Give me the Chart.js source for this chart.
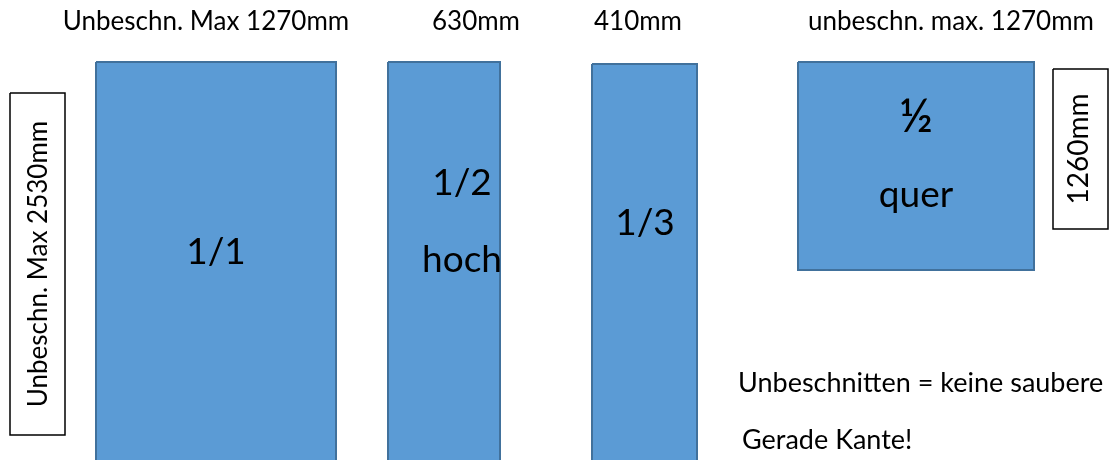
<!DOCTYPE html>
<html>
<head>
<meta charset="utf-8">
<script src="https://cdn.jsdelivr.net/npm/chart.js@4.4.1/dist/chart.umd.min.js"></script>
<style>
    body { margin: 0; background: #fff; }
    #wrap { width: 1109px; height: 460px; }
</style>
</head>
<body>
<div id="wrap"><canvas id="formats"></canvas></div>
<script>
// poster formats, layout units (x: 0..1109 left to right, y: 0..460 top to bottom)
const formatNames = ['1/1', '1/2 hoch', '1/3', '½ quer'];
const formatLeft = [96, 388, 592, 798];
const formatRight = [336, 500, 697, 1034];
const formatTop = [62, 62, 64, 62];
const formatBottom = [480, 480, 480, 270];
// text inside the shapes, one entry per line
const innerText = [['1/1'], ['1/2', 'hoch'], ['1/3'], ['½', 'quer']];
const innerX = [[216], [462, 462], [645], [916, 916]];
const innerY = [[252], [183, 260], [223], [117, 195]];

// widths above the shapes
const widthLabels = ['Unbeschn. Max 1270mm', '630mm', '410mm', 'unbeschn. max. 1270mm'];
const widthLabelX = [206, 476, 638, 951];
const widthLabelY = 22;

// height boxes at the sides
const heightLabels = ['Unbeschn. Max 2530mm', '1260mm'];
const heightLeft = [10, 1053];
const heightRight = [65, 1108];
const heightTop = [93, 69];
const heightBottom = [435, 229];
const heightTextX = [39, 1079];

const notes = ['Unbeschnitten = keine saubere', 'Gerade Kante!'];
const noteX = [738, 742];
const noteY = [383, 440];

function outline(l, r, t, b) {
    return [{x: l, y: t}, {x: r, y: t}, {x: r, y: b}, {x: l, y: b}, {x: l, y: t}];
}

var datasets = [];
formatNames.forEach(function (name, i) {
    datasets.push({
        label: name,
        data: outline(formatLeft[i], formatRight[i], formatTop[i], formatBottom[i]),
        showLine: true,
        fill: 'shape',
        backgroundColor: '#5b9bd5',
        borderColor: '#41719c',
        borderWidth: 2,
        pointRadius: 0,
        tension: 0
    });
});
heightLabels.forEach(function (name, i) {
    datasets.push({
        label: name,
        data: outline(heightLeft[i], heightRight[i], heightTop[i], heightBottom[i]),
        showLine: true,
        fill: false,
        borderColor: '#000000',
        borderWidth: 1.5,
        pointRadius: 0,
        tension: 0
    });
});

const FONT = 'Lato, "Open Sans", sans-serif';

const textPlugin = {
    id: 'texts',
    afterDatasetsDraw(chart) {
        const ctx = chart.ctx;
        const xs = chart.scales.x;
        const ys = chart.scales.y;
        ctx.save();
        ctx.fillStyle = '#000';
        ctx.textBaseline = 'middle';

        // labels inside shapes
        ctx.textAlign = 'center';
        innerText.forEach(function (lines, i) {
            lines.forEach(function (t, j) {
                // the half sign comes out small, so give it a bigger size
                ctx.font = t === '½' ? '500 46px ' + FONT : '37px ' + FONT;
                ctx.fillText(t, xs.getPixelForValue(innerX[i][j]), ys.getPixelForValue(innerY[i][j]));
            });
        });

        // widths on top
        ctx.font = '26px ' + FONT;
        widthLabels.forEach(function (t, i) {
            ctx.fillText(t, xs.getPixelForValue(widthLabelX[i]), ys.getPixelForValue(widthLabelY));
        });

        // rotated heights
        heightLabels.forEach(function (t, i) {
            var cx = xs.getPixelForValue(heightTextX[i]);
            var cy = ys.getPixelForValue((heightTop[i] + heightBottom[i]) / 2);
            ctx.font = (i === 0 ? '26px ' : '28px ') + FONT;
            ctx.save();
            ctx.translate(cx, cy);
            ctx.rotate(-Math.PI / 2);
            ctx.fillText(t, 0, 0);
            ctx.restore();
        });

        // notes
        ctx.textAlign = 'left';
        ctx.font = '27px ' + FONT;
        notes.forEach(function (t, i) {
            ctx.fillText(t, xs.getPixelForValue(noteX[i]), ys.getPixelForValue(noteY[i]));
        });
        ctx.restore();
    }
};

new Chart(document.getElementById('formats'), {
    type: 'scatter',
    data: { datasets: datasets },
    options: {
        responsive: true,
        maintainAspectRatio: false,
        animation: false,
        layout: { padding: 0 },
        plugins: {
            legend: { display: false },
            tooltip: { enabled: false }
        },
        scales: {
            x: { type: 'linear', min: 0, max: 1109, display: false },
            y: { type: 'linear', min: 0, max: 460, reverse: true, display: false }
        }
    },
    plugins: [textPlugin]
});
</script>
</body>
</html>
